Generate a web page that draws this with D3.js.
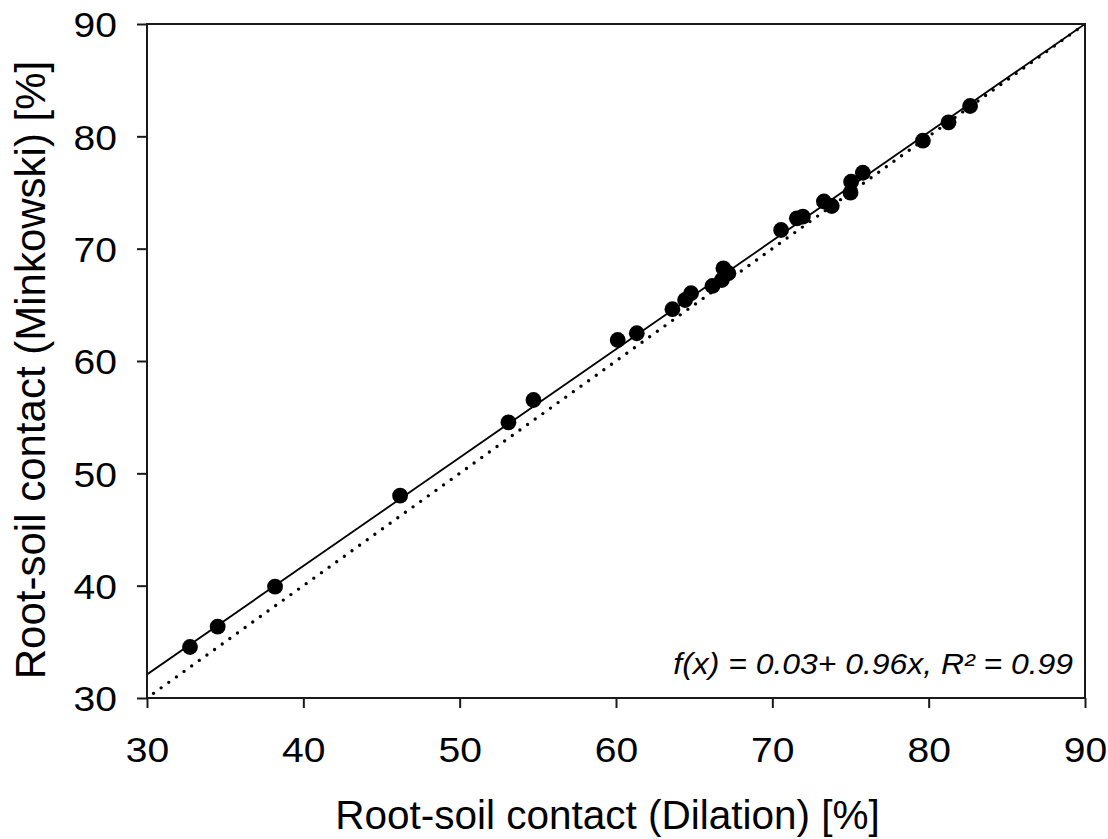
<!DOCTYPE html>
<html>
<head>
<meta charset="utf-8">
<script src="https://cdn.jsdelivr.net/npm/d3@7"></script>
<style>
  html, body { margin: 0; padding: 0; background: #fff; }
  text { font-family: "Liberation Sans", Arial, sans-serif; fill: #000; }
</style>
</head>
<body>
<svg id="chart" width="1108" height="839"></svg>
<script>
// Data
const dilation = [32.75, 34.52, 38.19, 46.19, 53.12, 54.72, 60.11, 61.33, 63.61, 64.42, 64.80, 66.17, 66.77, 66.87, 67.19, 70.56, 71.57, 71.95, 73.3, 73.8, 75.0, 75.04, 75.79, 79.63, 81.27, 82.65];
const minkowski = [34.54, 36.35, 39.91, 48.01, 54.54, 56.53, 61.87, 62.47, 64.61, 65.43, 66.03, 66.68, 67.21, 68.25, 67.81, 71.66, 72.70, 72.85, 74.2, 73.80, 74.98, 75.96, 76.76, 79.61, 81.25, 82.70];
const fitLineX = [30, 90];
const fitLineY = [32.1, 90];
const identityX = [30, 90];
const identityY = [30, 90];
const xTicks = [30, 40, 50, 60, 70, 80, 90];
const yTicks = [30, 40, 50, 60, 70, 80, 90];
const xTitle = "Root-soil contact (Dilation) [%]";
const yTitle = "Root-soil contact (Minkowski) [%]";
const annotation = "f(x) = 0.03+ 0.96x, R² = 0.99";

const L = 147, R = 1085, T = 24, B = 698;
const svg = d3.select("#chart");
const x = d3.scaleLinear().domain([30, 90]).range([L, R]);
const y = d3.scaleLinear().domain([30, 90]).range([B, T]);

svg.append("defs").append("clipPath").attr("id", "plotclip")
  .append("rect").attr("x", L).attr("y", T).attr("width", R - L).attr("height", B - T);

const g = svg.append("g").attr("clip-path", "url(#plotclip)");
const line = d3.line().x(d => x(d[0])).y(d => y(d[1]));

// 1:1 dotted line
g.append("path")
  .datum(identityX.map((v, i) => [v, identityY[i]]))
  .attr("d", line)
  .attr("fill", "none").attr("stroke", "#000")
  .attr("stroke-width", 3.4).attr("stroke-linecap", "round")
  .attr("stroke-dasharray", "0 9.4").attr("stroke-dashoffset", -8);

// fit line
g.append("path")
  .datum(fitLineX.map((v, i) => [v, fitLineY[i]]))
  .attr("d", line)
  .attr("fill", "none").attr("stroke", "#000").attr("stroke-width", 1.8);

// points
svg.append("g").selectAll("circle")
  .data(dilation.map((v, i) => [v, minkowski[i]]))
  .join("circle")
  .attr("cx", d => x(d[0])).attr("cy", d => y(d[1]))
  .attr("r", 7.9).attr("fill", "#000");

// frame
svg.append("rect").attr("x", L).attr("y", T).attr("width", R - L).attr("height", B - T)
  .attr("fill", "none").attr("stroke", "#1a1a1a").attr("stroke-width", 2);

// axes
const xAxis = d3.axisBottom(x).tickValues(xTicks).tickSize(10).tickSizeOuter(0).tickPadding(0).tickFormat(d3.format("d"));
const yAxis = d3.axisLeft(y).tickValues(yTicks).tickSize(10).tickSizeOuter(0).tickPadding(0).tickFormat(d3.format("d"));

const gx = svg.append("g").attr("transform", `translate(0,${B})`).call(xAxis);
const gy = svg.append("g").attr("transform", `translate(${L},0)`).call(yAxis);
[gx, gy].forEach(a => {
  a.select(".domain").remove();
  a.selectAll(".tick line").attr("stroke", "#1a1a1a").attr("stroke-width", 2);
  a.selectAll(".tick text").attr("font-family", "Liberation Sans, Arial, sans-serif").attr("font-size", 35.5).attr("fill", "#000");
});
gx.selectAll(".tick text").attr("dy", null).attr("y", 0)
  .attr("transform", "translate(0,64) scale(1.1,1)");
gy.selectAll(".tick text").attr("dy", null).attr("x", 0)
  .attr("transform", "translate(-30,12.7) scale(1.1,1)");

// titles
svg.append("text")
  .attr("transform", `translate(${(335 + 880) / 2},829)`)
  .attr("text-anchor", "middle").attr("font-size", 40.5)
  .text(xTitle);

svg.append("text")
  .attr("transform", `translate(45,370) rotate(-90)`)
  .attr("text-anchor", "middle").attr("font-size", 42)
  .text(yTitle);

svg.append("text")
  .attr("transform", `translate(1073,674) scale(1.1,1)`)
  .attr("text-anchor", "end").attr("font-size", 29).attr("font-style", "italic")
  .text(annotation);
</script>
</body>
</html>
